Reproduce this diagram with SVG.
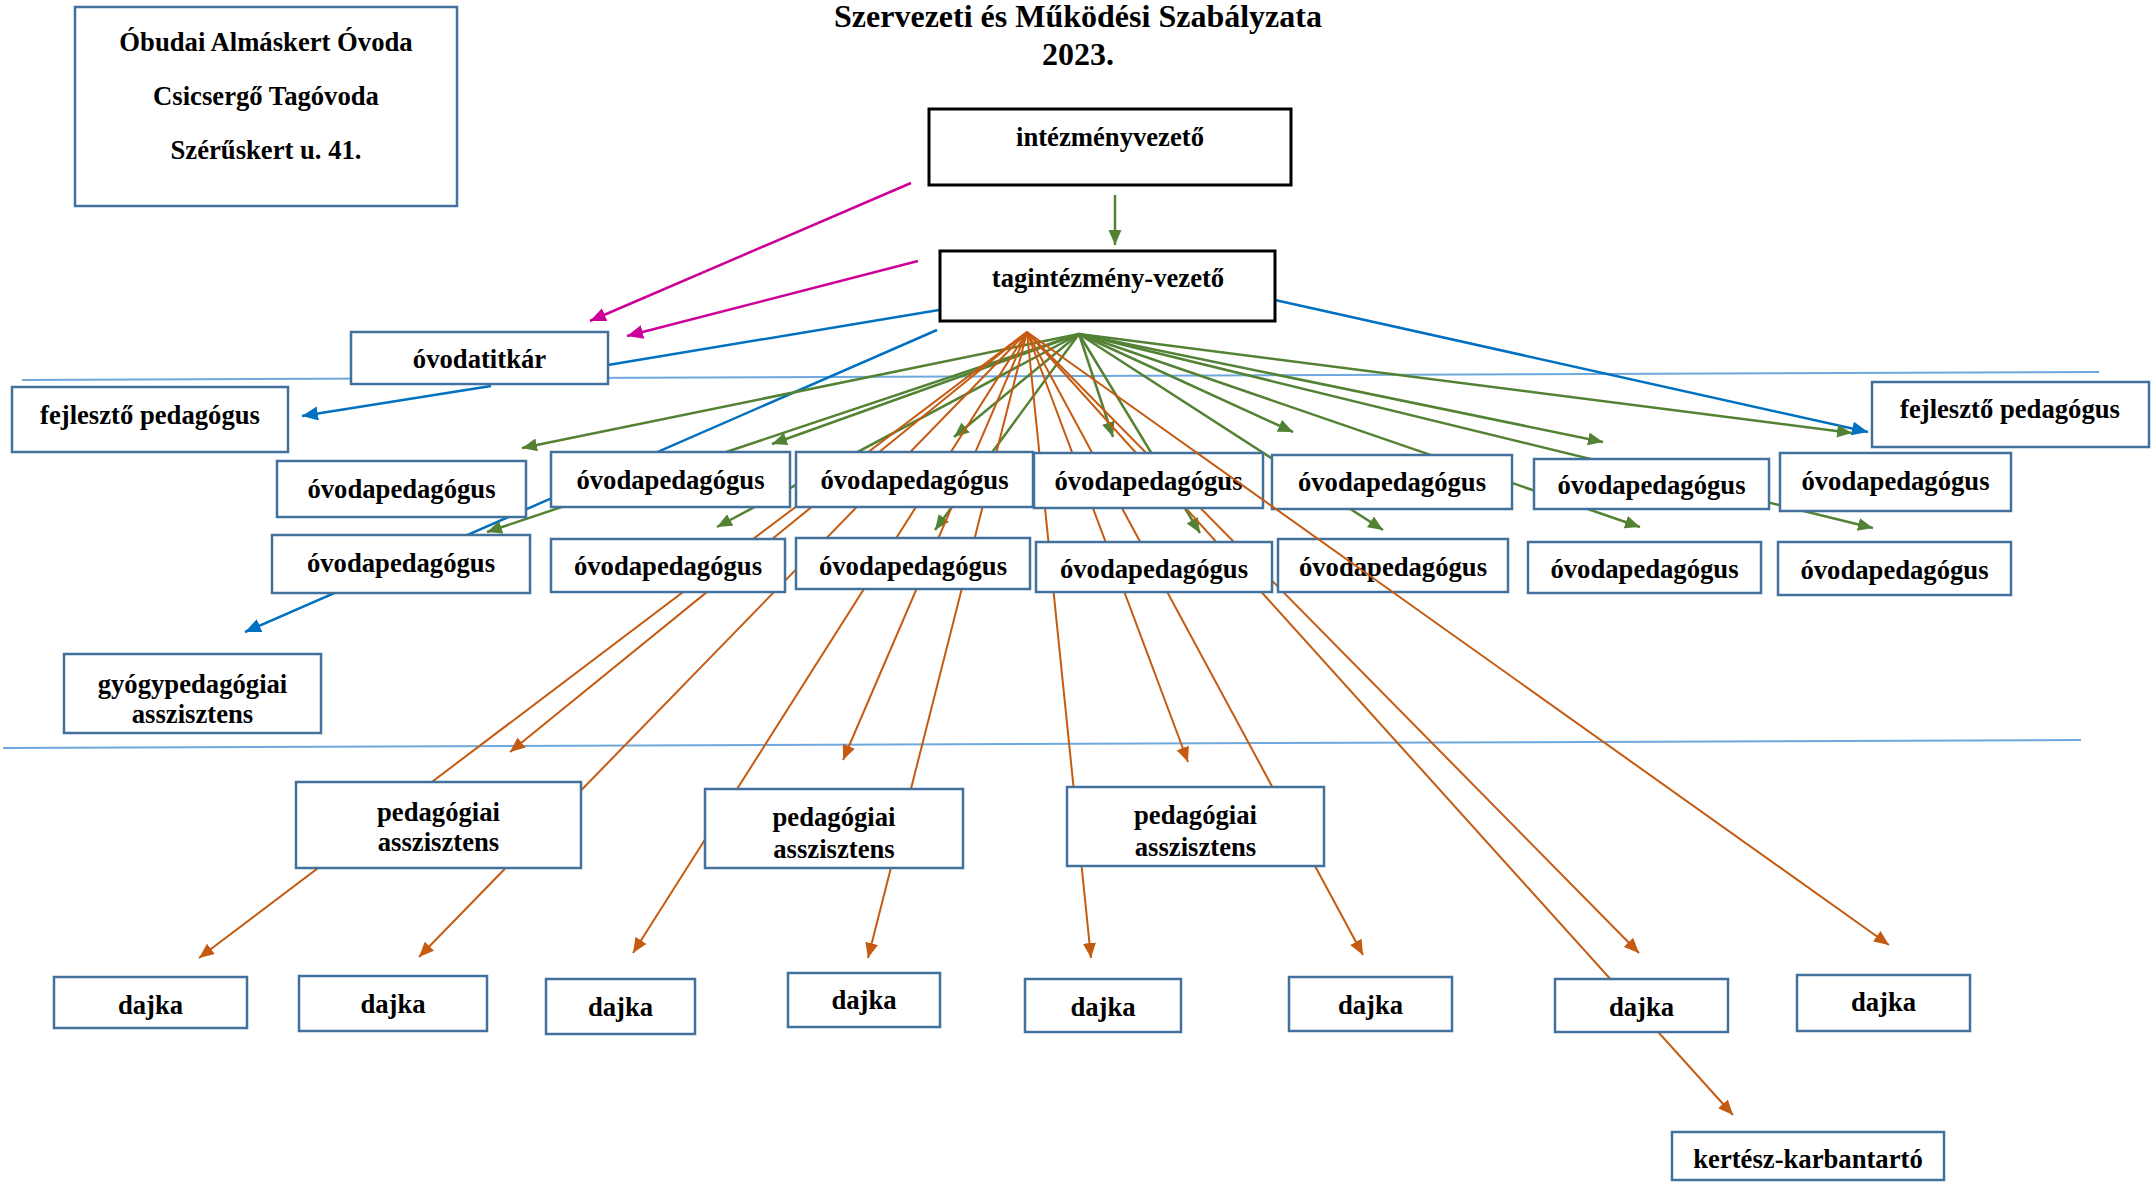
<svg xmlns="http://www.w3.org/2000/svg" width="2152" height="1182" viewBox="0 0 2152 1182">
<style>
.box{fill:#fff;stroke:#41719C;stroke-width:2.5}
.bbox{fill:#fff;stroke:#000;stroke-width:3}
.t{font-family:"Liberation Serif","Times New Roman",serif;font-weight:bold;font-size:26.67px;text-anchor:middle;fill:#000}
.ttl{font-size:32px}
.sep{stroke:#6FA8DC;stroke-width:2;fill:none}
.or{stroke:#C55A11;stroke-width:2;fill:none;marker-end:url(#aO)}
.gr{stroke:#548235;stroke-width:2.5;fill:none;marker-end:url(#aG)}
.bl{stroke:#0070C0;stroke-width:2.5;fill:none}
.bla{marker-end:url(#aB)}
.mg{stroke:#CC0099;stroke-width:2.5;fill:none;marker-end:url(#aM)}
</style>
<defs>
<marker id="aO" markerUnits="userSpaceOnUse" markerWidth="16" markerHeight="14" refX="15" refY="6.5" orient="auto"><path d="M0,0 L15,6.5 L0,13 z" fill="#C55A11"/></marker>
<marker id="aG" markerUnits="userSpaceOnUse" markerWidth="16" markerHeight="14" refX="15" refY="6.5" orient="auto"><path d="M0,0 L15,6.5 L0,13 z" fill="#548235"/></marker>
<marker id="aB" markerUnits="userSpaceOnUse" markerWidth="17" markerHeight="15" refX="16" refY="7" orient="auto"><path d="M0,0 L16,7 L0,14 z" fill="#0070C0"/></marker>
<marker id="aM" markerUnits="userSpaceOnUse" markerWidth="17" markerHeight="15" refX="16" refY="7" orient="auto"><path d="M0,0 L16,7 L0,14 z" fill="#CC0099"/></marker>
</defs>
<rect width="2152" height="1182" fill="#fff"/>

<g id="title">
<text class="t ttl" x="1078" y="27">Szervezeti és Működési Szabályzata</text>
<text class="t ttl" x="1078" y="65">2023.</text>
</g>

<g id="separators">
<line class="sep" x1="22" y1="380" x2="2099" y2="372"/>
<line class="sep" x1="3" y1="748" x2="2081" y2="740"/>
</g>

<g id="connectors">
<line class="mg" x1="911" y1="183" x2="590" y2="321"/>
<line class="mg" x1="918" y1="261" x2="627" y2="336"/>
<line class="gr" x1="1115" y1="195" x2="1115" y2="245"/>
<line class="bl" x1="939" y1="310" x2="608" y2="365"/>
<line class="bl bla" x1="491" y1="386" x2="302" y2="416"/>
<line class="bl bla" x1="937" y1="330" x2="245" y2="632"/>
<line class="bl bla" x1="1275" y1="300" x2="1868" y2="432"/>
<line class="gr" x1="1079" y1="334" x2="522" y2="448"/>
<line class="gr" x1="1079" y1="334" x2="772" y2="444"/>
<line class="gr" x1="1079" y1="334" x2="954" y2="437"/>
<line class="gr" x1="1079" y1="334" x2="1113" y2="437"/>
<line class="gr" x1="1079" y1="334" x2="1293" y2="432"/>
<line class="gr" x1="1079" y1="334" x2="1603" y2="442"/>
<line class="gr" x1="1079" y1="334" x2="1852" y2="433"/>
<line class="gr" x1="1079" y1="334" x2="487" y2="532"/>
<line class="gr" x1="1079" y1="334" x2="717" y2="527"/>
<line class="gr" x1="1079" y1="334" x2="935" y2="530"/>
<line class="gr" x1="1079" y1="334" x2="1200" y2="533"/>
<line class="gr" x1="1079" y1="334" x2="1383" y2="530"/>
<line class="gr" x1="1079" y1="334" x2="1640" y2="527"/>
<line class="gr" x1="1079" y1="334" x2="1873" y2="528"/>
<line class="or" x1="1027" y1="332" x2="199" y2="958"/>
<line class="or" x1="1027" y1="332" x2="510" y2="752"/>
<line class="or" x1="1027" y1="332" x2="419" y2="957"/>
<line class="or" x1="1027" y1="332" x2="633" y2="953"/>
<line class="or" x1="1027" y1="332" x2="843" y2="760"/>
<line class="or" x1="1027" y1="332" x2="868" y2="958"/>
<line class="or" x1="1027" y1="332" x2="1091" y2="958"/>
<line class="or" x1="1027" y1="332" x2="1188" y2="762"/>
<line class="or" x1="1027" y1="332" x2="1363" y2="955"/>
<line class="or" x1="1027" y1="332" x2="1639" y2="953"/>
<line class="or" x1="1027" y1="332" x2="1733" y2="1115"/>
</g>

<g id="n-ovoda"><rect class="box" x="75" y="7" width="382" height="199"/>
<text class="t" x="266" y="51">Óbudai Almáskert Óvoda</text>
<text class="t" x="266" y="105">Csicsergő Tagóvoda</text>
<text class="t" x="266" y="159">Szérűskert u. 41.</text></g>
<g id="n-intezmenyvezeto"><rect class="bbox" x="929" y="109" width="362" height="76"/><text class="t" x="1110" y="146">intézményvezető</text></g>
<g id="n-tagintezmenyvezeto"><rect class="bbox" x="940" y="251" width="335" height="70"/><text class="t" x="1108" y="287">tagintézmény-vezető</text></g>
<g id="n-ovodatitkar"><rect class="box" x="351" y="332" width="257" height="52"/><text class="t" x="479.5" y="368">óvodatitkár</text></g>
<g id="n-fejleszto-1"><rect class="box" x="12" y="387" width="276" height="65"/><text class="t" x="150" y="424">fejlesztő pedagógus</text></g>
<g id="n-fejleszto-2"><rect class="box" x="1872" y="382" width="277" height="65"/><text class="t" x="2010" y="418">fejlesztő pedagógus</text></g>

<g id="n-op-1-1"><rect class="box" x="277" y="461" width="249" height="56"/><text class="t" x="401.5" y="498">óvodapedagógus</text></g>
<g id="n-op-1-2"><rect class="box" x="551" y="452" width="239" height="55"/><text class="t" x="670.5" y="489">óvodapedagógus</text></g>
<g id="n-op-1-3"><rect class="box" x="796" y="452" width="237" height="55"/><text class="t" x="914.5" y="489">óvodapedagógus</text></g>
<g id="n-op-1-4"><rect class="box" x="1034" y="453" width="229" height="55"/><text class="t" x="1148.5" y="490">óvodapedagógus</text></g>
<g id="n-op-1-5"><rect class="box" x="1272" y="455" width="240" height="54"/><text class="t" x="1392" y="491">óvodapedagógus</text></g>
<g id="n-op-1-6"><rect class="box" x="1534" y="459" width="235" height="50"/><text class="t" x="1651.5" y="494">óvodapedagógus</text></g>
<g id="n-op-1-7"><rect class="box" x="1780" y="453" width="231" height="58"/><text class="t" x="1895.5" y="490">óvodapedagógus</text></g>

<g id="n-op-2-1"><rect class="box" x="272" y="535" width="258" height="58"/><text class="t" x="401" y="572">óvodapedagógus</text></g>
<g id="n-op-2-2"><rect class="box" x="551" y="539" width="234" height="53"/><text class="t" x="668" y="575">óvodapedagógus</text></g>
<g id="n-op-2-3"><rect class="box" x="796" y="538" width="234" height="51"/><text class="t" x="913" y="575">óvodapedagógus</text></g>
<g id="n-op-2-4"><rect class="box" x="1036" y="542" width="236" height="50"/><text class="t" x="1154" y="578">óvodapedagógus</text></g>
<g id="n-op-2-5"><rect class="box" x="1278" y="539" width="230" height="53"/><text class="t" x="1393" y="576">óvodapedagógus</text></g>
<g id="n-op-2-6"><rect class="box" x="1528" y="542" width="233" height="51"/><text class="t" x="1644.5" y="578">óvodapedagógus</text></g>
<g id="n-op-2-7"><rect class="box" x="1778" y="542" width="233" height="53"/><text class="t" x="1894.5" y="579">óvodapedagógus</text></g>

<g id="n-gyogyped"><rect class="box" x="64" y="654" width="257" height="79"/><text class="t" x="192.5" y="693">gyógypedagógiai</text><text class="t" x="192.5" y="723">asszisztens</text></g>
<g id="n-pa-1"><rect class="box" x="296" y="782" width="285" height="86"/><text class="t" x="438.5" y="821">pedagógiai</text><text class="t" x="438.5" y="851">asszisztens</text></g>
<g id="n-pa-2"><rect class="box" x="705" y="789" width="258" height="79"/><text class="t" x="834" y="826">pedagógiai</text><text class="t" x="834" y="858">asszisztens</text></g>
<g id="n-pa-3"><rect class="box" x="1067" y="787" width="257" height="79"/><text class="t" x="1195.5" y="824">pedagógiai</text><text class="t" x="1195.5" y="856">asszisztens</text></g>

<g id="n-dajka-1"><rect class="box" x="54" y="977" width="193" height="51"/><text class="t" x="150.5" y="1014">dajka</text></g>
<g id="n-dajka-2"><rect class="box" x="299" y="976" width="188" height="55"/><text class="t" x="393" y="1013">dajka</text></g>
<g id="n-dajka-3"><rect class="box" x="546" y="979" width="149" height="55"/><text class="t" x="620.5" y="1016">dajka</text></g>
<g id="n-dajka-4"><rect class="box" x="788" y="973" width="152" height="54"/><text class="t" x="864" y="1009">dajka</text></g>
<g id="n-dajka-5"><rect class="box" x="1025" y="979" width="156" height="53"/><text class="t" x="1103" y="1016">dajka</text></g>
<g id="n-dajka-6"><rect class="box" x="1289" y="977" width="163" height="54"/><text class="t" x="1370.5" y="1014">dajka</text></g>
<g id="n-dajka-7"><rect class="box" x="1555" y="979" width="173" height="53"/><text class="t" x="1641.5" y="1016">dajka</text></g>
<g id="n-dajka-8"><rect class="box" x="1797" y="975" width="173" height="56"/><text class="t" x="1883.5" y="1011">dajka</text></g>
<g id="n-kertesz"><rect class="box" x="1672" y="1132" width="272" height="48"/><text class="t" x="1808" y="1168">kertész-karbantartó</text></g>

<g id="connectors-front">
<line class="or" x1="1027" y1="332" x2="1889" y2="945"/>
</g>
</svg>
